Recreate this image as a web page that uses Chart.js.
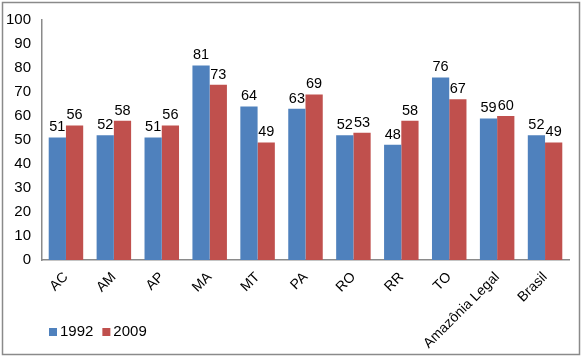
<!DOCTYPE html>
<html>
<head>
<meta charset="utf-8">
<script src="https://cdn.jsdelivr.net/npm/chart.js@4.4.1/dist/chart.umd.min.js"></script>
<style>
  html, body { margin: 0; padding: 0; background: #fff; }
  #wrap { position: relative; width: 585px; height: 359px; }
  canvas { display: block; }
</style>
</head>
<body>
<div id="wrap"><canvas id="chart" width="585" height="359"></canvas></div>
<script>
// ---------- data ----------
const categories = ['AC', 'AM', 'AP', 'MA', 'MT', 'PA', 'RO', 'RR', 'TO', 'Amazônia Legal', 'Brasil'];
const values1992 = [51, 52, 51, 81, 64, 63, 52, 48, 76, 59, 52];
const values2009 = [56, 58, 56, 73, 49, 69, 53, 58, 67, 60, 49];
const yTicks = [0, 10, 20, 30, 40, 50, 60, 70, 80, 90, 100];

const BLUE = '#4F81BD';
const RED = '#C0504D';
const FONT = '"Liberation Sans", Arial, sans-serif';

// value labels above each bar
const barLabels = {
  id: 'barLabels',
  afterDatasetsDraw(chart) {
    const ctx = chart.ctx;
    ctx.save();
    ctx.font = '14.5px ' + FONT;
    ctx.fillStyle = '#000';
    ctx.textAlign = 'center';
    ctx.textBaseline = 'bottom';
    chart.data.datasets.forEach((ds, i) => {
      chart.getDatasetMeta(i).data.forEach((bar, j) => {
        ctx.fillText(String(ds.data[j]), bar.x, bar.y - 3);
      });
    });
    ctx.restore();
  }
};

// outer frame + legend at bottom-left
const frameAndLegend = {
  id: 'frameAndLegend',
  afterDraw(chart) {
    const ctx = chart.ctx;
    ctx.save();
    ctx.strokeStyle = '#8a8a8a';
    ctx.lineWidth = 1.5;
    ctx.strokeRect(2.5, 2.5, 577, 352);

    ctx.font = '15px ' + FONT;
    ctx.textBaseline = 'middle';
    ctx.textAlign = 'left';
    let x = 49;
    const y = 332;
    chart.data.datasets.forEach(ds => {
      ctx.fillStyle = ds.backgroundColor;
      ctx.fillRect(x, y - 4, 8, 8);
      ctx.fillStyle = '#000';
      ctx.fillText(ds.label, x + 11, y);
      x += 11 + ctx.measureText(ds.label).width + 9;
    });
    ctx.restore();
  }
};

new Chart(document.getElementById('chart'), {
  type: 'bar',
  data: {
    labels: categories,
    datasets: [
      { label: '1992', data: values1992, backgroundColor: BLUE },
      { label: '2009', data: values2009, backgroundColor: RED }
    ]
  },
  options: {
    responsive: false,
    animation: false,
    layout: { padding: { left: 0, right: 16, top: 18, bottom: 0 } },
    plugins: {
      legend: { display: false },
      tooltip: { enabled: false }
    },
    datasets: {
      bar: { categoryPercentage: 0.72, barPercentage: 1.0 }
    },
    scales: {
      x: {
        grid: { display: false, drawTicks: false },
        border: { display: true, color: '#8a8a8a', width: 1.5 },
        ticks: {
          color: '#000',
          font: { family: FONT, size: 14 },
          maxRotation: 45,
          minRotation: 45,
          padding: 9,
          autoSkip: false
        },
        afterFit(scale) { scale.height = 359 - 260; }
      },
      y: {
        min: 0,
        max: 100,
        afterBuildTicks(scale) { scale.ticks = yTicks.map(v => ({ value: v })); },
        grid: { display: false, drawTicks: false },
        border: { display: true, color: '#8a8a8a', width: 1.5 },
        ticks: {
          color: '#000',
          font: { family: FONT, size: 15 },
          padding: 11
        },
        afterFit(scale) { scale.width = 42; }
      }
    }
  },
  plugins: [barLabels, frameAndLegend]
});
</script>
</body>
</html>
